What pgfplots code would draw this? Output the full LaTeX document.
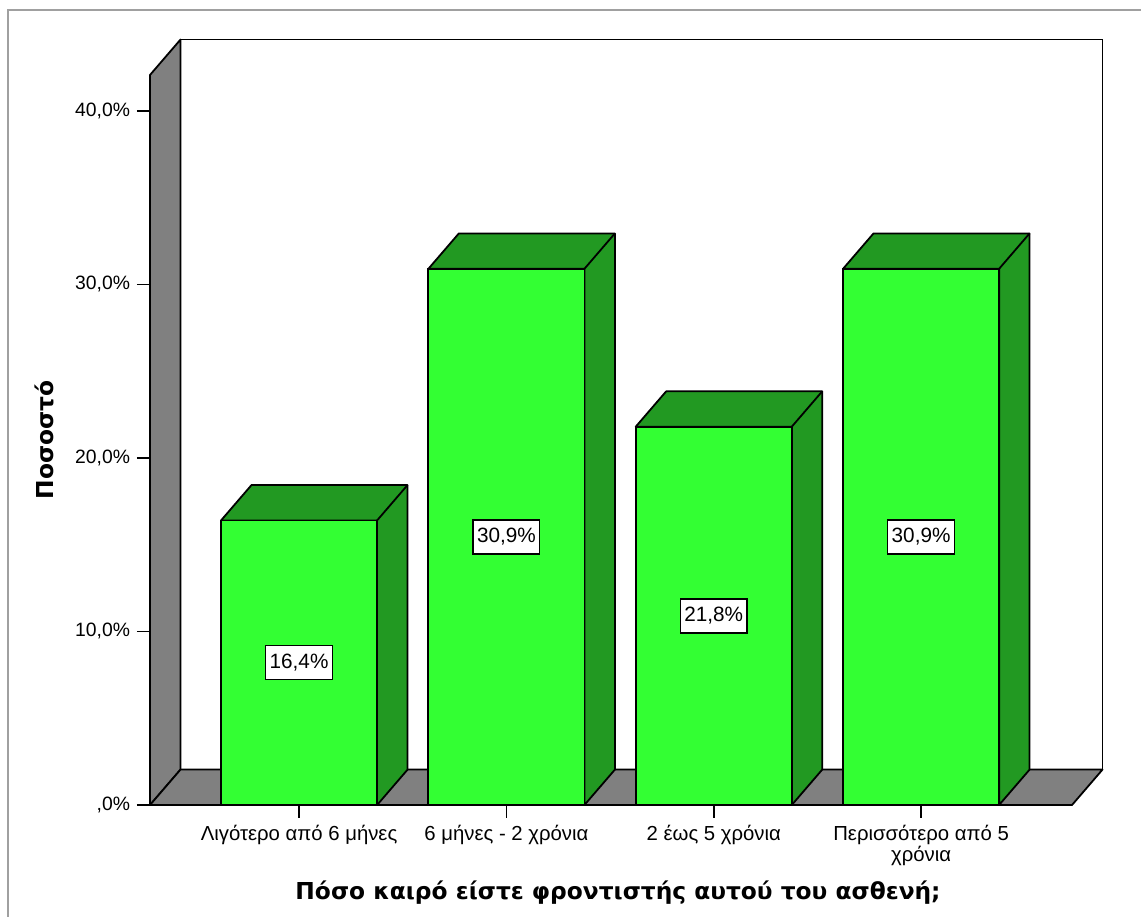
\documentclass[border=0pt]{standalone}
\usepackage{pgfplots}
\pgfplotsset{compat=1.18}
\usepackage{pgfplotstable}
\usepackage{fontspec}
\setmainfont{Liberation Sans}
\newfontfamily\titlefont{DejaVu Sans}

\definecolor{frontgreen}{HTML}{33FF33}
\definecolor{sidegreen}{HTML}{229922}
\definecolor{wallgray}{HTML}{808080}
\definecolor{framegray}{HTML}{A0A0A0}

% percentage of caregivers per duration category
\pgfplotstableread{
x v
0 16.4
1 30.9
2 21.8
3 30.9
}\bars

% half bar width and depth offset of the 3D boxes (axis units)
\newcommand\hw{0.3763}
\newcommand\depthx{0.147}
\newcommand\depthy{2.04}

% top and right side of one 3D bar
\newcommand\barsides[2]{%
  \pgfmathsetmacro\xl{#1-\hw}%
  \pgfmathsetmacro\xr{#1+\hw}%
  \pgfmathsetmacro\xlb{#1-\hw+\depthx}%
  \pgfmathsetmacro\xrb{#1+\hw+\depthx}%
  \pgfmathsetmacro\yt{#2+\depthy}%
  \edef\sidecmd{\noexpand\addplot[fill=sidegreen,draw=black,line width=0.9bp,line join=round]
    coordinates {(\xr,0) (\xr,#2) (\xl,#2) (\xlb,\yt) (\xrb,\yt) (\xrb,\depthy) (\xr,0)};}%
  \sidecmd
  \edef\edgecmd{\noexpand\addplot[draw=black,line width=0.9bp]
    coordinates {(\xr,#2) (\xrb,\yt)};}%
  \edgecmd
}

\begin{document}
\begin{tikzpicture}[x=1bp,y=1bp]
\useasboundingbox (-75,-56) rectangle (495.5,402.5);
\draw[framegray, line width=1.2bp] (-71,-60) -- (-71,397.5) -- (500,397.5);
\begin{axis}[
  at={(0,0)}, anchor=south west,
  scale only axis, width=461bp, height=365bp,
  xmin=-0.719, xmax=3.728, ymin=0, ymax=42.07,
  clip=false,
  axis line style={draw=none},
  tick align=outside, xtick pos=bottom, ytick pos=left,
  major tick length=6.5bp,
  tick style={black, line width=0.8bp},
  xtick={0,1,2,3},
  xticklabels={Λιγότερο από 6 μήνες, 6 μήνες - 2 χρόνια, 2 έως 5 χρόνια, {Περισσότερο από 5\\χρόνια}},
  xticklabel style={align=center, font=\fontsize{10.2}{10.4}\selectfont},
  ytick={0,10,20,30,40},
  yticklabels={{,0\%},{10,0\%},{20,0\%},{30,0\%},{40,0\%}},
  yticklabel style={font=\fontsize{9.7}{11}\selectfont},
  xlabel={Πόσο καιρό είστε φροντιστής αυτού του ασθενή;},
  ylabel={Ποσοστό},
  every axis x label/.style={at={(axis description cs:0.5076,-0.1205)}, anchor=center,
    font=\titlefont\fontsize{11.7}{14}\selectfont\bfseries},
  every axis y label/.style={at={(axis description cs:-0.114,0.5)}, anchor=center, rotate=90,
    font=\titlefont\fontsize{11.7}{14}\selectfont\bfseries},
  /pgf/number format/assume math mode=true,
]
% walls and floor
\filldraw[fill=white, draw=black, line width=0.9bp] (axis cs:-0.572,2.04) rectangle (axis cs:3.875,44.11);
\filldraw[fill=wallgray, draw=black, line width=0.9bp, line join=round]
  (axis cs:-0.719,0) -- (axis cs:-0.719,42.07) -- (axis cs:-0.572,44.11) -- (axis cs:-0.572,2.04) -- cycle;
\filldraw[fill=wallgray, draw=black, line width=0.9bp, line join=round]
  (axis cs:-0.719,0) -- (axis cs:3.728,0) -- (axis cs:3.875,2.04) -- (axis cs:-0.572,2.04) -- cycle;

% bars: sides, then front faces
\pgfplotsinvokeforeach{0,...,3}{%
  \pgfplotstablegetelem{#1}{v}\of\bars
  \edef\onebar{\noexpand\barsides{#1}{\pgfplotsretval}}%
  \onebar
}
\addplot[ybar, bar width=0.7526, fill=frontgreen, draw=black, line width=0.9bp]
  table[x=x, y=v]{\bars};

% value labels at half height
\addplot[only marks, mark=none, point meta=\thisrow{v},
  nodes near coords={\pgfmathprintnumber[use comma,fixed,fixed zerofill,precision=1]{\pgfplotspointmeta}\%},
  every node near coord/.style={anchor=center, draw=black, fill=white, line width=0.7bp,
    font=\fontsize{10.4}{11}\selectfont, inner xsep=2bp, inner ysep=0bp, minimum height=17bp}]
  table[x=x, y expr=\thisrow{v}/2]{\bars};
\end{axis}
\end{tikzpicture}
\end{document}
